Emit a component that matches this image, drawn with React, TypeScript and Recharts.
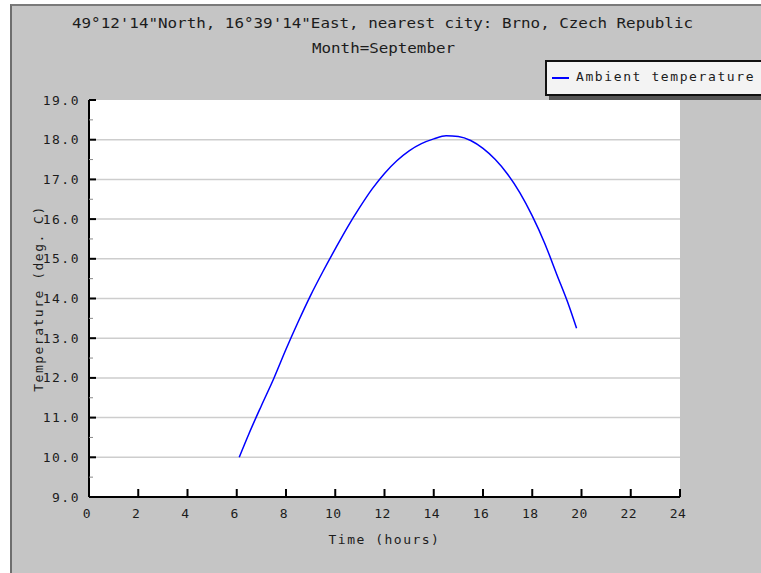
import React from "react";
import {
  CartesianGrid,
  Legend,
  Line,
  LineChart,
  ReferenceLine,
  XAxis,
  YAxis,
} from "recharts";

// hourly ambient temperature
const hours = [
  6.1, 6.5, 7, 7.5, 8, 8.5, 9, 9.5, 10, 10.5, 11, 11.5, 12, 12.5, 13, 13.5, 14,
  14.5, 15, 15.5, 16, 16.5, 17, 17.5, 18, 18.5, 19, 19.5, 19.8,
];
const temps = [
  10.0, 10.6, 11.3, 11.98, 12.72, 13.42, 14.08, 14.68, 15.25, 15.8, 16.3, 16.76,
  17.15, 17.47, 17.72, 17.9, 18.02, 18.1, 18.08, 17.98, 17.78, 17.5, 17.13,
  16.66, 16.08, 15.4, 14.6, 13.8, 13.25,
];

const xTicks = [0, 2, 4, 6, 8, 10, 12, 14, 16, 18, 20, 22, 24];
const yTicks = [
  9, 9.5, 10, 10.5, 11, 11.5, 12, 12.5, 13, 13.5, 14, 14.5, 15, 15.5, 16, 16.5,
  17, 17.5, 18, 18.5, 19,
];
const gridValues = [10, 11, 12, 13, 14, 15, 16, 17, 18];

const title = "49°12'14\"North, 16°39'14\"East, nearest city: Brno, Czech Republic";
const subtitle = "Month=September";
const seriesName = "Ambient temperature";

const data = hours.map((h, i) => ({ hour: h, temp: temps[i] }));

const FONT = "'DejaVu Sans Mono', monospace";
const INK = "#1c1c1c";

const YTick = (props: any) => {
  const { x, y, payload } = props;
  const v = payload.value as number;
  const major = Number.isInteger(v);
  return (
    <g>
      <line
        x1={x}
        x2={x + (major ? 7 : 4)}
        y1={y}
        y2={y}
        stroke={major ? "#000" : "#888"}
        strokeWidth={major ? 2 : 1}
      />
      {major && (
        <text
          x={x - 9}
          y={y}
          dy={4.5}
          textAnchor="end"
          fontFamily={FONT}
          fontSize={13}
          letterSpacing={1.5}
          fill={INK}
        >
          {v.toFixed(1)}
        </text>
      )}
    </g>
  );
};

const XTick = (props: any) => {
  const { x, y, payload } = props;
  return (
    <g>
      <line x1={x} x2={x} y1={y} y2={y - 8} stroke="#000" strokeWidth={2} />
      <text
        x={x}
        y={y + 21}
        dx={-2}
        textAnchor="middle"
        fontFamily={FONT}
        fontSize={13}
        letterSpacing={0.5}
        fill={INK}
      >
        {payload.value}
      </text>
    </g>
  );
};

const LegendBox = () => (
  <div
    style={{
      width: 240,
      height: 32,
      border: "2px solid #111",
      background: "#f3f3f3",
      boxShadow: "4px 4px 0 #555",
      position: "relative",
      fontFamily: FONT,
      fontSize: 13,
      letterSpacing: 1.6,
      color: INK,
    }}
  >
    <div
      style={{
        position: "absolute",
        left: 5,
        top: 15,
        width: 17,
        height: 2,
        background: "#0000ff",
      }}
    />
    <div style={{ position: "absolute", left: 29, top: 7, whiteSpace: "nowrap" }}>
      {seriesName}
    </div>
  </div>
);

export default function App() {
  return (
    <div
      style={{
        position: "absolute",
        left: 0,
        top: 0,
        width: 761,
        height: 573,
        overflow: "hidden",
        background: "#fff",
      }}
    >
      <div
        style={{
          position: "absolute",
          left: 10,
          top: 4,
          right: 0,
          bottom: 0,
          background: "#c5c5c5",
          borderLeft: "2px solid #6e6e6e",
          borderTop: "2px solid #7a7a7a",
        }}
      />
      <svg
        width={761}
        height={80}
        style={{ position: "absolute", left: 0, top: 0 }}
      >
        <text
          x={72}
          y={28}
          textLength={621}
          lengthAdjust="spacingAndGlyphs"
          fontFamily={FONT}
          fontSize={14}
          fill={INK}
        >
          {title}
        </text>
        <text
          x={312}
          y={53}
          textLength={143}
          lengthAdjust="spacingAndGlyphs"
          fontFamily={FONT}
          fontSize={14}
          fill={INK}
        >
          {subtitle}
        </text>
      </svg>
      <div style={{ position: "absolute", left: 0, top: 0 }}>
        <LineChart
          width={761}
          height={573}
          data={data}
          margin={{ top: 100, right: 81, bottom: 29, left: 0 }}
        >
          <CartesianGrid
            horizontal={false}
            vertical={false}
            fill="#ffffff"
            fillOpacity={1}
          />
          {gridValues.map((g) => (
            <ReferenceLine
              key={g}
              y={g}
              stroke="#cdcdcd"
              strokeWidth={1.5}
              ifOverflow="visible"
            />
          ))}
          <XAxis
            dataKey="hour"
            type="number"
            domain={[0, 24]}
            ticks={xTicks}
            interval={0}
            height={47}
            tickSize={0}
            tickMargin={0}
            tickLine={false}
            tick={<XTick />}
            axisLine={{ stroke: "#000", strokeWidth: 2 }}
            label={{
              value: "Time (hours)",
              position: "insideBottom",
              offset: 0,
              style: {
                fontFamily: FONT,
                fontSize: 13,
                letterSpacing: 1.5,
                fill: INK,
              },
            }}
          />
          <YAxis
            type="number"
            domain={[9, 19]}
            ticks={yTicks}
            interval={0}
            width={89}
            tickSize={0}
            tickMargin={0}
            tickLine={false}
            tick={<YTick />}
            axisLine={{ stroke: "#000", strokeWidth: 2 }}
            label={{
              value: "Temperature (deg. C)",
              angle: -90,
              position: "insideLeft",
              offset: 38,
              style: {
                fontFamily: FONT,
                fontSize: 13,
                letterSpacing: 1.5,
                fill: INK,
                textAnchor: "middle",
              },
            }}
          />
          <Legend
            layout="vertical"
            align="center"
            verticalAlign="middle"
            content={<LegendBox />}
            wrapperStyle={{ left: 545, top: 60, width: 240 }}
          />
          <Line
            type="monotone"
            dataKey="temp"
            name={seriesName}
            stroke="#0000ff"
            strokeWidth={1.5}
            dot={false}
            activeDot={false}
            isAnimationActive={false}
          />
        </LineChart>
      </div>
    </div>
  );
}
